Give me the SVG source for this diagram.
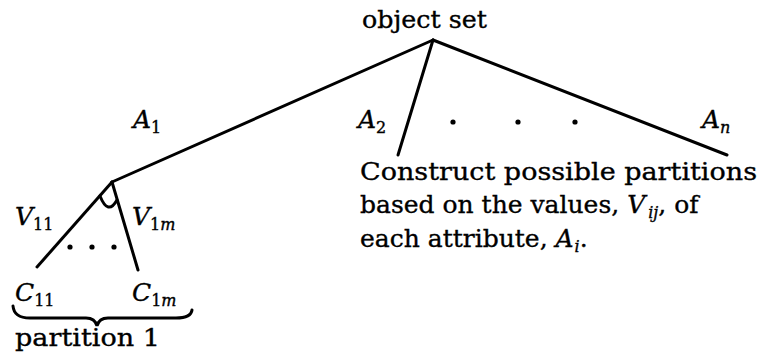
<svg xmlns="http://www.w3.org/2000/svg" width="761" height="364" viewBox="0 0 761 364">
<style>
.t{font-family:"DejaVu Serif","Liberation Serif",serif;font-size:25px;fill:#000;stroke:#000;stroke-width:0.35}
.m{font-family:"DejaVu Serif","Liberation Serif",serif;font-style:italic;font-size:25px;fill:#000;stroke:#000;stroke-width:0.35}
.s{font-size:16px;font-style:normal}
.si{font-size:16px;font-style:italic}
.ln{stroke:#000;stroke-width:3;fill:none;stroke-linecap:round}
.dot{fill:#000}
</style>
<rect width="761" height="364" fill="#fff"/>
<g id="connectors">
<line class="ln" x1="433" y1="40" x2="112" y2="182"/>
<line class="ln" x1="433" y1="40" x2="398" y2="155" stroke-width="2.6"/>
<line class="ln" x1="433" y1="40" x2="727" y2="155"/>
<line class="ln" x1="112" y1="182" x2="37" y2="267" stroke-width="2.6"/>
<line class="ln" x1="112" y1="182" x2="138" y2="270" stroke-width="2.6"/>
<path class="ln" d="M100,196 Q108,216 117,200" stroke-width="2.4"/>
<path class="ln" d="M13,306 Q14,318 30,318 L86,318 Q95,318 97,326 Q99,318 108,318 L176,318 Q191,318 192,310" stroke-width="2.6"/>
</g>
<g id="root">
<text class="t" x="362" y="28" textLength="125" lengthAdjust="spacingAndGlyphs">object set</text>
</g>
<g id="labels-attributes">
<text class="m" x="133" y="128">A<tspan class="s" dy="5">1</tspan></text>
<text class="m" x="358" y="128">A<tspan class="s" dy="5">2</tspan></text>
<text class="m" x="702" y="128">A<tspan class="si" dy="5">n</tspan></text>
<circle class="dot" cx="453" cy="122" r="2.6"/>
<circle class="dot" cx="518" cy="122" r="2.6"/>
<circle class="dot" cx="575" cy="122" r="2.6"/>
</g>
<g id="node-partition">
<text class="m" x="15" y="225">V<tspan class="s" dy="5">11</tspan></text>
<text class="m" x="132" y="225">V<tspan class="s" dy="5">1</tspan><tspan class="si">m</tspan></text>
<circle class="dot" cx="70" cy="247" r="2.6"/>
<circle class="dot" cx="92" cy="247" r="2.6"/>
<circle class="dot" cx="114" cy="247" r="2.6"/>
<text class="m" x="15" y="301">C<tspan class="s" dy="5">11</tspan></text>
<text class="m" x="132" y="301">C<tspan class="s" dy="5">1</tspan><tspan class="si">m</tspan></text>
<text class="t" x="15" y="346" textLength="145" lengthAdjust="spacingAndGlyphs">partition 1</text>
</g>
<g id="node-description">
<text class="t" x="360" y="180" textLength="397" lengthAdjust="spacingAndGlyphs">Construct possible partitions</text>
<text class="t" x="360" y="213">based on the values, <tspan class="m">V</tspan><tspan class="si" dx="3" dy="5">ij</tspan><tspan dy="-5">, of</tspan></text>
<text class="t" x="360" y="247">each attribute, <tspan class="m">A</tspan><tspan class="si" dx="1" dy="5">i</tspan><tspan dy="-5">.</tspan></text>
</g>
</svg>
